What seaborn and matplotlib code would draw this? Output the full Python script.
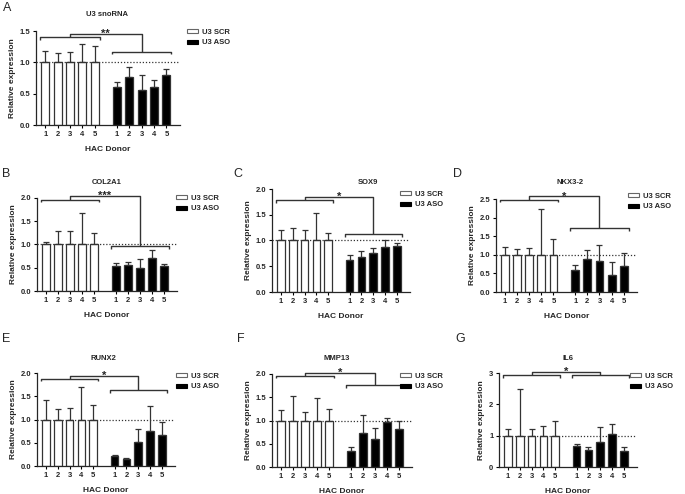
import numpy as np
import pandas as pd
import matplotlib
matplotlib.use('Agg')
import matplotlib.pyplot as plt
from matplotlib.patches import Patch
from matplotlib.ticker import FormatStrFormatter, MultipleLocator
import seaborn as sns


# one panel per gene, reading order
genes = ['U3 snoRNA', 'COL2A1', 'SOX9', 'NKX3-2', 'RUNX2', 'MMP13', 'IL6']
letters = ['A', 'B', 'C', 'D', 'E', 'F', 'G']
donors = ['1', '2', '3', '4', '5']
groups = ['U3 SCR', 'U3 ASO']

# SCR is normalised to 1 for each donor; only the upper end of the error bar is shown
scr_mean = [1.0, 1.0, 1.0, 1.0, 1.0]
scr_top = [
    [1.18, 1.15, 1.17, 1.29, 1.26],
    [1.05, 1.29, 1.28, 1.68, 1.24],
    [1.20, 1.25, 1.20, 1.53, 1.14],
    [1.22, 1.15, 1.18, 2.22, 1.42],
    [1.41, 1.22, 1.25, 1.70, 1.32],
    [1.22, 1.53, 1.18, 1.49, 1.24],
    [1.20, 2.50, 1.20, 1.30, 1.48],
]
aso_mean = [
    [0.60, 0.76, 0.56, 0.60, 0.80],
    [0.53, 0.55, 0.50, 0.71, 0.53],
    [0.62, 0.68, 0.76, 0.87, 0.89],
    [0.60, 0.89, 0.82, 0.47, 0.71],
    [0.21, 0.16, 0.51, 0.76, 0.67],
    [0.35, 0.73, 0.60, 0.96, 0.81],
    [0.67, 0.55, 0.80, 1.04, 0.51],
]
aso_top = [
    [0.68, 0.92, 0.79, 0.72, 0.90],
    [0.61, 0.62, 0.68, 0.89, 0.58],
    [0.72, 0.79, 0.85, 1.00, 0.96],
    [0.73, 1.12, 1.25, 0.81, 1.05],
    [0.24, 0.18, 0.80, 1.29, 0.95],
    [0.42, 1.12, 0.83, 1.06, 0.98],
    [0.75, 0.65, 1.28, 1.36, 0.65],
]
stars = ['**', '***', '*', '*', '*', '*', '*']
y_max = [1.5, 2.0, 2.0, 2.5, 2.0, 2.0, 3.0]
y_step = [0.5, 0.5, 0.5, 0.5, 0.5, 0.5, 1.0]

# significance brackets (data units): SCR bracket, connecting line, ASO bracket
scr_bracket = [1.40, 1.96, 1.79, 2.48, 1.88, 1.96, 2.93]
link_height = [1.46, 2.04, 1.85, 2.57, 1.94, 2.03, 3.03]
aso_bracket = [1.17, 0.96, 1.13, 1.72, 1.63, 1.76, 2.93]

W, H = 685, 494
# axes boxes in pixels: left, top, right, bottom
boxes = [(36, 31, 180, 125),
         (37, 198, 177, 291), (272, 189, 410, 292), (496, 199, 637, 292),
         (37, 373, 175, 466), (272, 374, 412, 467), (499, 373, 637, 467)]
letter_xy = [(3, 2), (2, 168), (233, 168), (453, 168), (2, 333), (237, 333), (455, 333)]
title_xy = [(107, 15), (107, 182), (368, 183), (570, 183), (103, 358), (337, 358), (568, 358)]
legend_xy = [(187, 29), (176, 195), (400, 191), (628, 193), (176, 373), (400, 373), (630, 373)]

scr_pos = np.arange(5) * 1.0
aso_pos = scr_pos + 5.8

sns.set_style('ticks')
plt.rcParams['font.family'] = ['Liberation Sans', 'DejaVu Sans']
plt.rcParams['font.weight'] = 'bold'
plt.rcParams['axes.linewidth'] = 0.9

fig = plt.figure(figsize=(W / 100, H / 100), dpi=100)

line_col = '#333333'

for i, gene in enumerate(genes):
    l, t, r, b = boxes[i]
    ax = fig.add_axes([l / W, 1 - b / H, (r - l) / W, (b - t) / H])

    df = pd.DataFrame({
        'pos': np.concatenate([scr_pos, aso_pos]),
        'value': scr_mean + aso_mean[i],
        'group': [groups[0]] * 5 + [groups[1]] * 5,
    })
    sns.barplot(data=df, x='pos', y='value', hue='group', native_scale=True,
                dodge=False, width=0.65, errorbar=None, legend=False,
                palette={groups[0]: 'white', groups[1]: 'black'},
                edgecolor=line_col, linewidth=0.9, ax=ax)

    # upper error bars only
    tops = np.array(scr_top[i] + aso_top[i])
    vals = df['value'].to_numpy()
    ax.errorbar(df['pos'], vals, yerr=[np.zeros(10), tops - vals], fmt='none',
                ecolor=line_col, elinewidth=0.9, capsize=2.4, capthick=0.9, zorder=1)

    ax.axhline(1.0, color=line_col, linestyle=(0, (1, 1.5)), linewidth=0.9, zorder=0)

    # significance bracket
    dip = 0.028 * y_max[i]
    xs0, xs1 = scr_pos[0] - 0.4, scr_pos[-1] + 0.4
    xa0, xa1 = aso_pos[0] - 0.4, aso_pos[-1] + 0.4
    cs, ca = (xs0 + xs1) / 2, (xa0 + xa1) / 2
    kw = dict(color=line_col, linewidth=1.0, clip_on=False, solid_capstyle='butt')
    ax.plot([xs0, xs0, xs1, xs1], [scr_bracket[i] - dip, scr_bracket[i], scr_bracket[i], scr_bracket[i] - dip], **kw)
    ax.plot([xa0, xa0, xa1, xa1], [aso_bracket[i] - dip, aso_bracket[i], aso_bracket[i], aso_bracket[i] - dip], **kw)
    ax.plot([cs, cs, ca, ca], [scr_bracket[i], link_height[i], link_height[i], aso_bracket[i]], **kw)
    ax.annotate(stars[i], xy=(4.9, link_height[i]), xytext=(0, 0), textcoords='offset points',
                ha='center', va='center', fontsize=8, fontweight='bold', annotation_clip=False)

    ax.set_xlim(-0.75, 10.9)
    ax.set_ylim(0, y_max[i])
    ax.yaxis.set_major_locator(MultipleLocator(y_step[i]))
    ax.yaxis.set_major_formatter(FormatStrFormatter('%d' if y_step[i] >= 1 else '%.1f'))
    ax.set_xticks(np.concatenate([scr_pos, aso_pos]))
    ax.set_xticklabels(donors * 2)
    ax.tick_params(direction='out', length=2.5, width=0.8, labelsize=5.5, pad=1.5, color='black')
    sns.despine(ax=ax)
    ax.set_xlabel('HAC Donor', fontsize=6, fontweight='bold', labelpad=6)
    ax.set_ylabel('Relative expression', fontsize=6, fontweight='bold', labelpad=3)

    handles = [Patch(facecolor='white', edgecolor='#666666', linewidth=0.8),
               Patch(facecolor='black', edgecolor='black', linewidth=0.8)]
    lx, ly = legend_xy[i]
    ax.legend(handles, groups, loc='upper left', bbox_to_anchor=(lx / W, 1 - ly / H),
              bbox_transform=fig.transFigure, frameon=False, borderpad=0, borderaxespad=0,
              handlelength=1.4, handleheight=0.5, handletextpad=0.5, labelspacing=0.45,
              prop={'size': 5.5, 'weight': 'bold'})

    tx, ty = title_xy[i]
    fig.text(tx / W, 1 - ty / H, gene, ha='center', va='center', fontsize=5.5, fontweight='bold')
    px, py = letter_xy[i]
    fig.text(px / W, 1 - py / H, letters[i], ha='left', va='top', fontsize=9, fontweight='normal')

fig.savefig('out.png', dpi=100)
